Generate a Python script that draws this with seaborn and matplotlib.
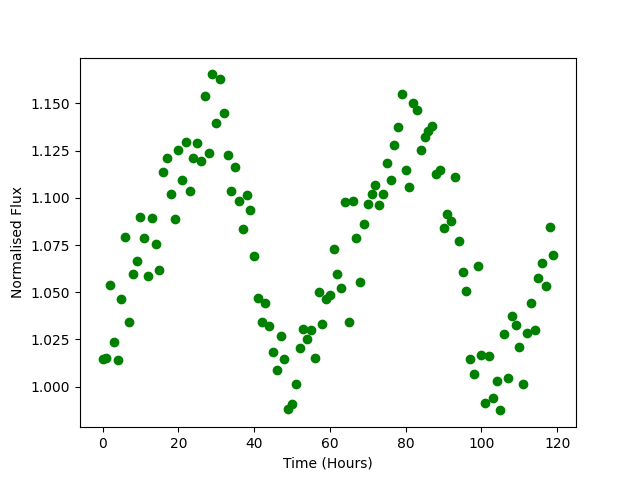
import matplotlib
matplotlib.use('Agg')
import matplotlib.pyplot as plt
import seaborn as sns
import pandas as pd

# time of each sample (hours)
hours = [
    0, 1, 2, 3, 4, 5, 6, 7, 8, 9,
    10, 11, 12, 13, 14, 15, 16, 17, 18, 19,
    20, 21, 22, 23, 24, 25, 26, 27, 28, 29,
    30, 31, 32, 33, 34, 35, 36, 37, 38, 39,
    40, 41, 42, 43, 44, 45, 46, 47, 48, 49,
    50, 51, 52, 53, 54, 55, 56, 57, 58, 59,
    60, 61, 62, 63, 64, 65, 66, 67, 68, 69,
    70, 71, 72, 73, 74, 75, 76, 77, 78, 79,
    80, 81, 82, 83, 84, 85, 86, 87, 88, 89,
    90, 91, 92, 93, 94, 95, 96, 97, 98, 99,
    100, 101, 102, 103, 104, 105, 106, 107, 108, 109,
    110, 111, 112, 113, 114, 115, 116, 117, 118, 119,
]

# normalised flux
flux = [
    1.0144, 1.0149, 1.0536, 1.0239, 1.0139, 1.0463, 1.0790, 1.0340, 1.0594, 1.0663,
    1.0896, 1.0785, 1.0584, 1.0891, 1.0753, 1.0617, 1.1135, 1.1209, 1.1023, 1.0886,
    1.1256, 1.1092, 1.1295, 1.1034, 1.1209, 1.1290, 1.1193, 1.1542, 1.1235, 1.1654,
    1.1394, 1.1632, 1.1452, 1.1225, 1.1034, 1.1161, 1.0981, 1.0833, 1.1013, 1.0933,
    1.0690, 1.0472, 1.0340, 1.0441, 1.0319, 1.0181, 1.0086, 1.0266, 1.0144, 0.9879,
    0.9907, 1.0013, 1.0204, 1.0305, 1.0252, 1.0298, 1.0151, 1.0501, 1.0331, 1.0465,
    1.0483, 1.0727, 1.0594, 1.0525, 1.0976, 1.0340, 1.0981, 1.0785, 1.0552, 1.0859,
    1.0970, 1.1018, 1.1066, 1.0960, 1.1023, 1.1187, 1.1097, 1.1278, 1.1373, 1.1549,
    1.1150, 1.1060, 1.1500, 1.1463, 1.1256, 1.1325, 1.1352, 1.1383, 1.1129, 1.1150,
    1.0838, 1.0917, 1.0880, 1.1113, 1.0774, 1.0605, 1.0504, 1.0144, 1.0065, 1.0637,
    1.0165, 0.9911, 1.0160, 0.9941, 1.0028, 0.9874, 1.0277, 1.0043, 1.0372, 1.0329,
    1.0208, 1.0012, 1.0282, 1.0441, 1.0298, 1.0578, 1.0653, 1.0531, 1.0843, 1.0695,
]

df = pd.DataFrame({'time': hours, 'flux': flux})

fig, ax = plt.subplots(figsize=(6.4, 4.8), dpi=100)
sns.scatterplot(data=df, x='time', y='flux', color='green',
                edgecolor='green', linewidth=1, s=36, ax=ax)

ax.set_xlabel('Time (Hours)')
ax.set_ylabel('Normalised Flux')

plt.savefig('out.png', dpi=100)
